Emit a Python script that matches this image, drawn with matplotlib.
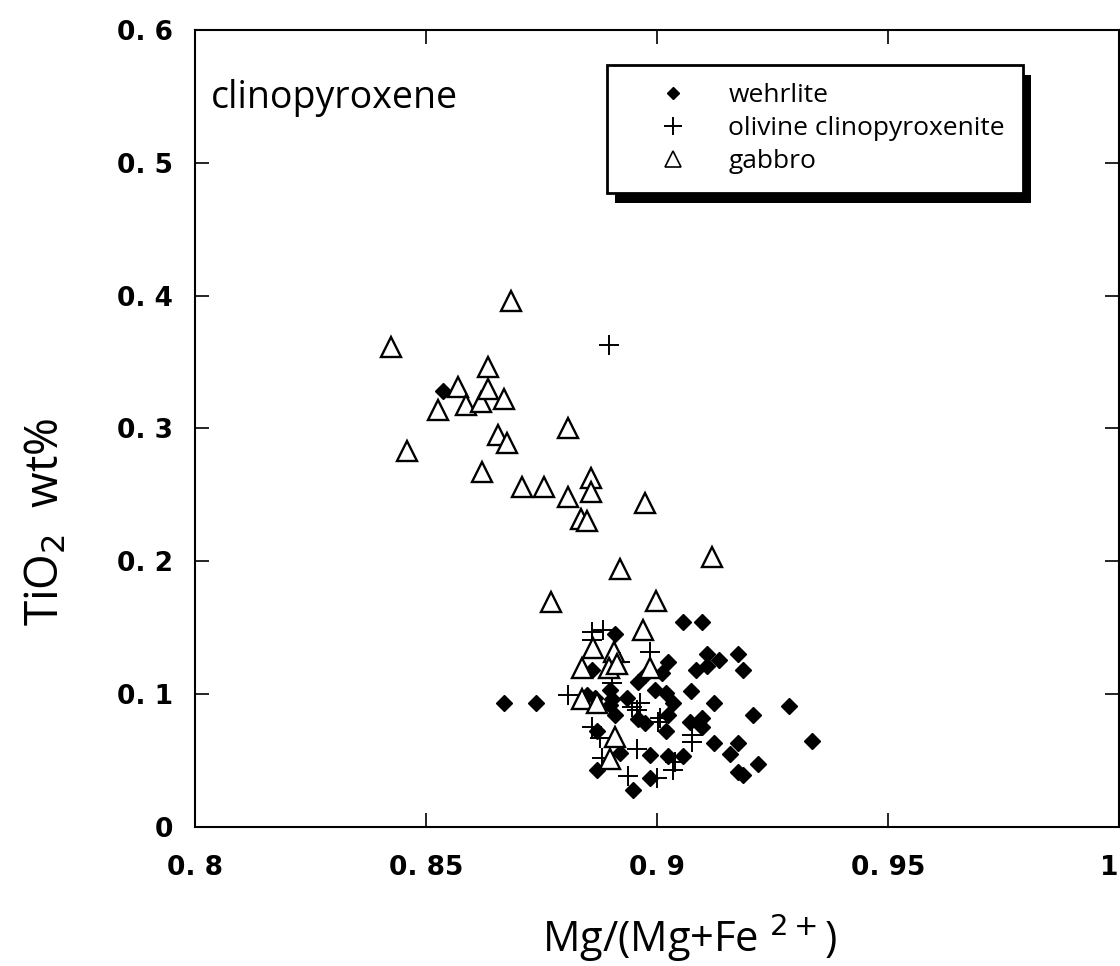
import matplotlib
matplotlib.use("Agg")
import matplotlib.pyplot as plt
from matplotlib.patches import Rectangle

# Mg/(Mg+Fe2+) and TiO2 wt% for each rock type
wehrlite_x = [0.8537, 0.8669, 0.8738, 0.8909, 0.9057, 0.9098, 0.9024, 0.9108, 0.9134, 0.9176,
              0.9108, 0.9085, 0.9186, 0.9011, 0.9074, 0.9020, 0.9124, 0.9286, 0.9035, 0.9208,
              0.9024, 0.9072, 0.9098, 0.9020, 0.9098, 0.9336, 0.9124, 0.9176, 0.9158, 0.9024,
              0.9057, 0.9219, 0.9176, 0.9186, 0.8860, 0.8974, 0.8959, 0.8996, 0.8849, 0.8866,
              0.8898, 0.8903, 0.8935, 0.8898, 0.8909, 0.8959, 0.8974, 0.8870, 0.8920, 0.8985,
              0.8870, 0.8985, 0.8948]
wehrlite_y = [0.328, 0.093, 0.093, 0.145, 0.154, 0.154, 0.124, 0.130, 0.126, 0.130,
              0.121, 0.118, 0.118, 0.116, 0.102, 0.101, 0.093, 0.091, 0.093, 0.084,
              0.084, 0.079, 0.082, 0.072, 0.075, 0.065, 0.063, 0.063, 0.055, 0.053,
              0.053, 0.047, 0.041, 0.039, 0.118, 0.114, 0.109, 0.103, 0.099, 0.097,
              0.103, 0.096, 0.097, 0.092, 0.084, 0.081, 0.078, 0.072, 0.056, 0.054,
              0.043, 0.037, 0.028]

ocpx_x = [0.8896, 0.8860, 0.8883, 0.8860, 0.8985, 0.8920, 0.8903, 0.8808, 0.8963, 0.8946,
          0.8957, 0.9002, 0.8860, 0.8877, 0.8957, 0.9076, 0.9076, 0.8881, 0.8937, 0.9000,
          0.9035, 0.9039, 0.9007]
ocpx_y = [0.363, 0.147, 0.148, 0.141, 0.132, 0.124, 0.108, 0.099, 0.093, 0.090,
          0.088, 0.079, 0.075, 0.067, 0.059, 0.069, 0.064, 0.052, 0.038, 0.037,
          0.043, 0.049, 0.082]

gabbro_x = [0.8424, 0.8684, 0.8459, 0.8526, 0.8569, 0.8587, 0.8619, 0.8634, 0.8634, 0.8669,
            0.8656, 0.8676, 0.8621, 0.8708, 0.8756, 0.8808, 0.8808, 0.8857, 0.8857, 0.8836,
            0.8849, 0.8974, 0.9119, 0.8920, 0.8771, 0.8998, 0.8970, 0.8862, 0.8907, 0.8838,
            0.8896, 0.8914, 0.8985, 0.8838, 0.8870, 0.8909, 0.8898]
gabbro_y = [0.361, 0.396, 0.283, 0.314, 0.331, 0.318, 0.320, 0.346, 0.330, 0.322,
            0.295, 0.289, 0.267, 0.256, 0.256, 0.248, 0.300, 0.263, 0.252, 0.232,
            0.230, 0.244, 0.203, 0.194, 0.169, 0.170, 0.148, 0.135, 0.132, 0.120,
            0.120, 0.123, 0.120, 0.096, 0.093, 0.068, 0.051]

xticks = [0.8, 0.85, 0.9, 0.95, 1.0]
xtick_labels = ["0. 8", "0. 85", "0. 9", "0. 95", "1"]
yticks = [0, 0.1, 0.2, 0.3, 0.4, 0.5, 0.6]
ytick_labels = ["0", "0. 1", "0. 2", "0. 3", "0. 4", "0. 5", "0. 6"]

fig = plt.figure(figsize=(11.2, 9.66), dpi=100)
ax = fig.add_axes([0.174, 0.144, 0.825, 0.825])

ax.plot(wehrlite_x, wehrlite_y, 'D', color='black', markersize=8, linestyle='none', label='wehrlite')
ax.plot(ocpx_x, ocpx_y, '+', color='black', markersize=15, markeredgewidth=1.4, linestyle='none',
        label='olivine clinopyroxenite')
ax.plot(gabbro_x, gabbro_y, '^', markerfacecolor='white', markeredgecolor='black', markersize=14,
        markeredgewidth=1.7, linestyle='none', label='gabbro')

ax.set_xlim(0.8, 1.0)
ax.set_ylim(0, 0.6)
ax.set_xticks(xticks)
ax.set_xticklabels(xtick_labels)
ax.set_yticks(yticks)
ax.set_yticklabels(ytick_labels)
ax.tick_params(direction='in', length=10, width=1.2, top=True, right=True, labelsize=19)
ax.tick_params(axis='x', pad=20)
ax.tick_params(axis='y', pad=16)
for lab in ax.get_xticklabels() + ax.get_yticklabels():
    lab.set_fontweight('bold')
ax.get_xticklabels()[-1].set_horizontalalignment('right')
for s in ax.spines.values():
    s.set_linewidth(1.5)

ax.set_xlabel(r'Mg/(Mg+Fe $^{2+}$)', fontsize=30, family='Open Sans', labelpad=22)
ax.xaxis.label.set_x(0.536)
ax.set_ylabel(r'TiO$_2$  wt%', fontsize=33, family='Open Sans', labelpad=34)
ax.yaxis.label.set_y(0.383)

ax.text(0.017, 0.915, 'clinopyroxene', transform=ax.transAxes, fontsize=27, family='Open Sans',
        va='center', ha='left')

leg = ax.legend(loc='upper left', bbox_to_anchor=(0.446, 0.956), frameon=True, fancybox=False,
                edgecolor='black', framealpha=1, prop={'family': 'Open Sans', 'size': 19},
                borderpad=0.7, handletextpad=0.3, labelspacing=0.3, borderaxespad=0,
                handlelength=3.6)
leg.get_frame().set_linewidth(2)
leg.legend_handles[0].set_markersize(6)
leg.legend_handles[1].set_markersize(13)
leg.legend_handles[2].set_markersize(11)
leg.legend_handles[2].set_markeredgewidth(1.2)
leg.set_zorder(10)

# solid shadow under the legend box
fig.canvas.draw()
bb = leg.get_window_extent()
shadow = Rectangle((bb.x0 + 8, bb.y0 - 10), bb.width, bb.height, transform=None,
                   facecolor='black', edgecolor='none', zorder=9, clip_on=False)
ax.add_artist(shadow)

fig.savefig('out.png', dpi=100)
